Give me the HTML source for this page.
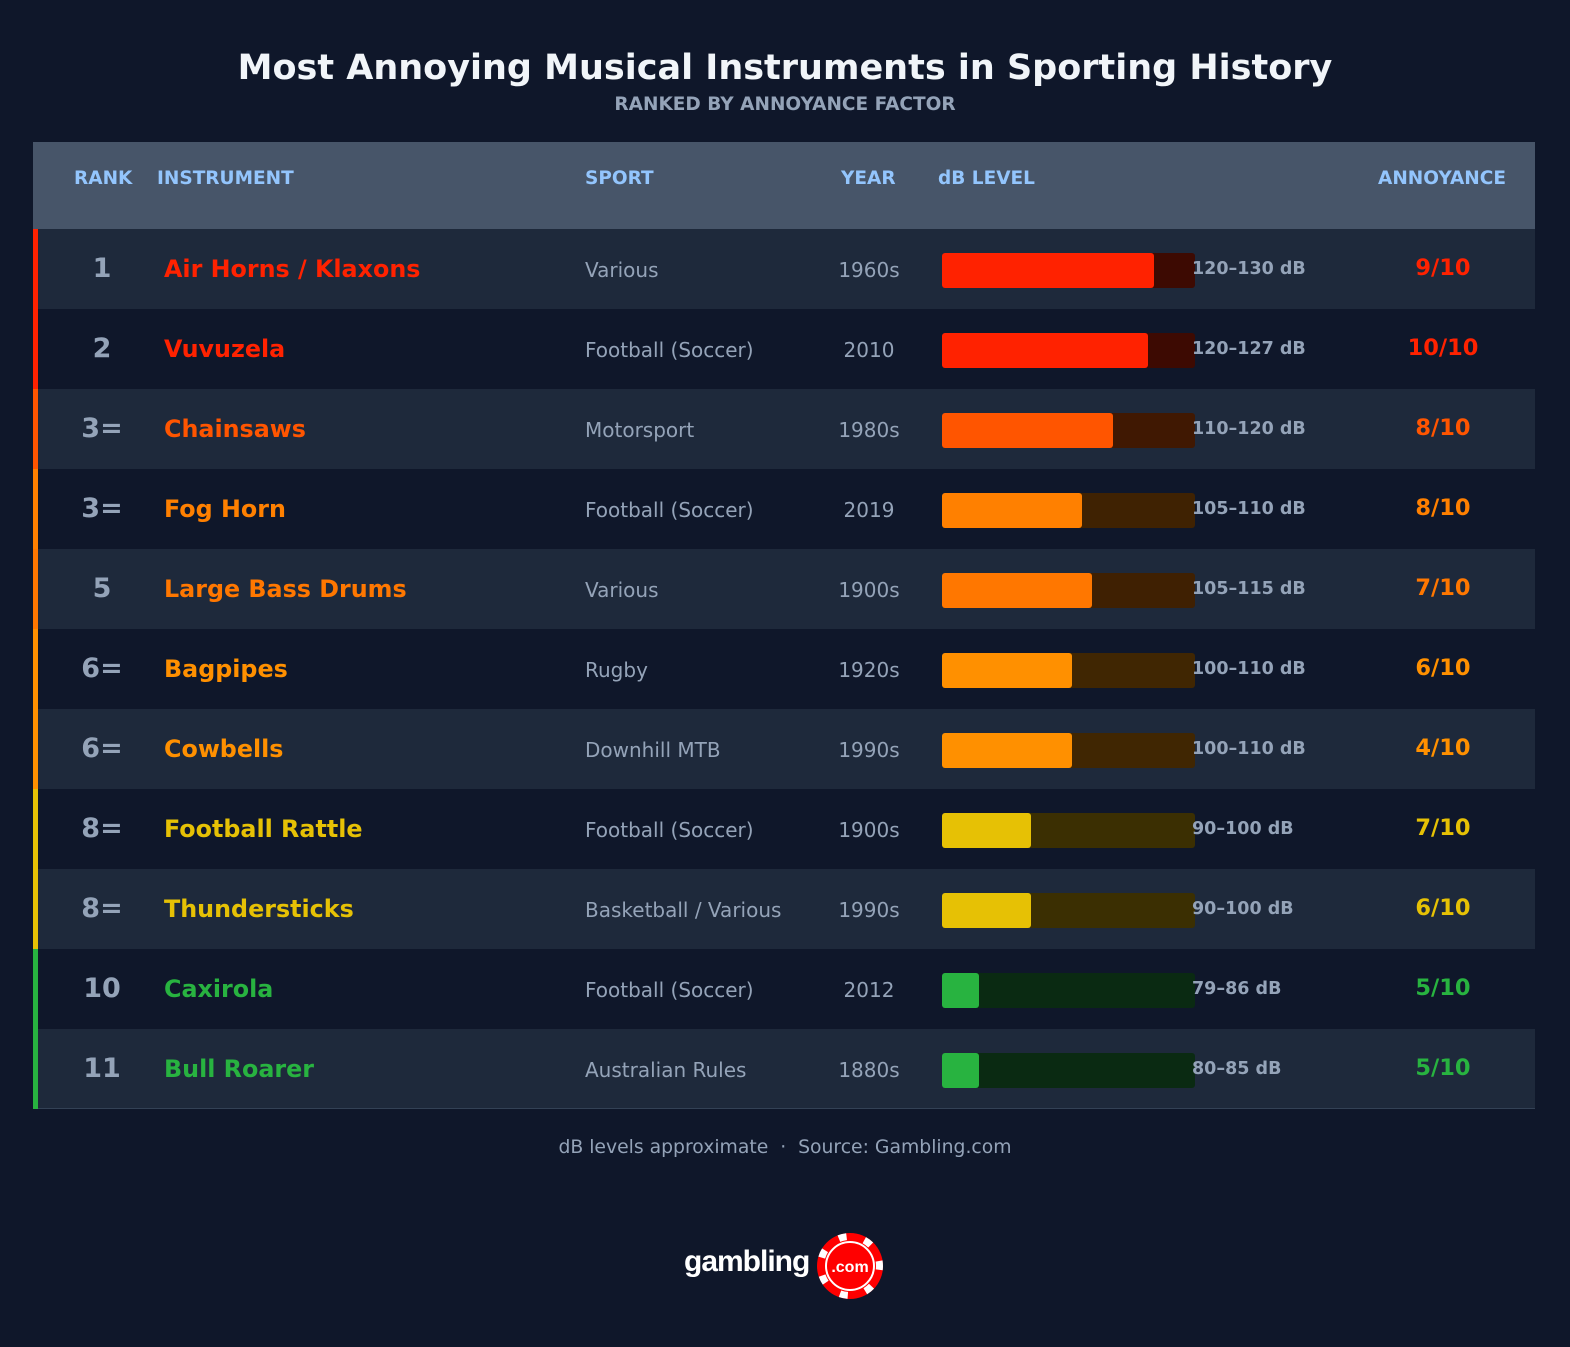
<!DOCTYPE html>
<html><head><meta charset="utf-8">
<style>
*{margin:0;padding:0;box-sizing:border-box}
body{width:1570px;height:1347px;background:#0f172a;font-family:"DejaVu Sans","Liberation Sans",sans-serif;position:relative;overflow:hidden}
.a{position:absolute;white-space:nowrap}
h1{position:absolute;left:0;width:1570px;top:48px;text-align:center;color:#f1f5f9;font-size:35px;font-weight:bold}
.sub{left:0;width:1570px;top:94px;text-align:center;color:#94a3b8;font-size:18.5px;font-weight:bold}
.hdr{left:33px;top:142px;width:1502px;height:87px;background:#475569}
.hl{color:#93c5fd;font-size:18.5px;font-weight:bold;top:168px}
.row{position:absolute;left:33px;width:1502px;height:80px}
.row .s{position:absolute;left:0;top:0;width:5px;height:80px}
.rk{position:absolute;left:0;width:138px;text-align:center;top:24px;font-size:27px;font-weight:bold;color:#94a3b8}
.in{position:absolute;left:131px;top:26px;font-size:23.8px;font-weight:bold}
.sp{position:absolute;left:552px;top:29px;font-size:20px;color:#94a3b8}
.yr{position:absolute;left:786px;width:100px;text-align:center;top:29px;font-size:20px;color:#94a3b8}
.tr{position:absolute;left:909px;top:24px;width:253px;height:35px;border-radius:3px}
.fl{position:absolute;left:0;top:0;height:35px;border-radius:3px}
.db{position:absolute;left:1159px;top:30px;font-size:17.5px;font-weight:bold;color:#94a3b8}
.an{position:absolute;left:1310px;width:200px;text-align:center;top:26px;font-size:22.5px;font-weight:bold}
.o{background:#1e293b}.e{background:#0f172a}
</style></head><body>
<h1>Most Annoying Musical Instruments in Sporting History</h1>
<div class="a sub">RANKED BY ANNOYANCE FACTOR</div>
<div class="a hdr"></div>
<div class="a hl" style="left:74px">RANK</div>
<div class="a hl" style="left:157px">INSTRUMENT</div>
<div class="a hl" style="left:585px">SPORT</div>
<div class="a hl" style="left:841px">YEAR</div>
<div class="a hl" style="left:938px">dB LEVEL</div>
<div class="a hl" style="left:1378px">ANNOYANCE</div>

<div class="row o" style="top:229px"><div class="s" style="background:#ff2200"></div><div class="rk">1</div><div class="in" style="color:#ff2200">Air Horns / Klaxons</div><div class="sp">Various</div><div class="yr">1960s</div><div class="tr" style="background:#3d0a02"><div class="fl" style="width:212px;background:#ff2200"></div></div><div class="db">120–130 dB</div><div class="an" style="color:#ff2200">9/10</div></div>
<div class="row e" style="top:309px"><div class="s" style="background:#ff2200"></div><div class="rk">2</div><div class="in" style="color:#ff2200">Vuvuzela</div><div class="sp">Football (Soccer)</div><div class="yr">2010</div><div class="tr" style="background:#3d0a02"><div class="fl" style="width:206px;background:#ff2200"></div></div><div class="db">120–127 dB</div><div class="an" style="color:#ff2200">10/10</div></div>
<div class="row o" style="top:389px"><div class="s" style="background:#ff5500"></div><div class="rk">3=</div><div class="in" style="color:#ff5500">Chainsaws</div><div class="sp">Motorsport</div><div class="yr">1980s</div><div class="tr" style="background:#401802"><div class="fl" style="width:171px;background:#ff5500"></div></div><div class="db">110–120 dB</div><div class="an" style="color:#ff5500">8/10</div></div>
<div class="row e" style="top:469px"><div class="s" style="background:#ff8000"></div><div class="rk">3=</div><div class="in" style="color:#ff8000">Fog Horn</div><div class="sp">Football (Soccer)</div><div class="yr">2019</div><div class="tr" style="background:#3f2202"><div class="fl" style="width:140px;background:#ff8000"></div></div><div class="db">105–110 dB</div><div class="an" style="color:#ff8000">8/10</div></div>
<div class="row o" style="top:549px"><div class="s" style="background:#ff7700"></div><div class="rk">5</div><div class="in" style="color:#ff7700">Large Bass Drums</div><div class="sp">Various</div><div class="yr">1900s</div><div class="tr" style="background:#3f2002"><div class="fl" style="width:150px;background:#ff7700"></div></div><div class="db">105–115 dB</div><div class="an" style="color:#ff7700">7/10</div></div>
<div class="row e" style="top:629px"><div class="s" style="background:#ff9000"></div><div class="rk">6=</div><div class="in" style="color:#ff9000">Bagpipes</div><div class="sp">Rugby</div><div class="yr">1920s</div><div class="tr" style="background:#402602"><div class="fl" style="width:130px;background:#ff9000"></div></div><div class="db">100–110 dB</div><div class="an" style="color:#ff9000">6/10</div></div>
<div class="row o" style="top:709px"><div class="s" style="background:#ff9000"></div><div class="rk">6=</div><div class="in" style="color:#ff9000">Cowbells</div><div class="sp">Downhill MTB</div><div class="yr">1990s</div><div class="tr" style="background:#402602"><div class="fl" style="width:130px;background:#ff9000"></div></div><div class="db">100–110 dB</div><div class="an" style="color:#ff9000">4/10</div></div>
<div class="row e" style="top:789px"><div class="s" style="background:#e6c105"></div><div class="rk">8=</div><div class="in" style="color:#e6c105">Football Rattle</div><div class="sp">Football (Soccer)</div><div class="yr">1900s</div><div class="tr" style="background:#3b2f02"><div class="fl" style="width:89px;background:#e6c105"></div></div><div class="db">90–100 dB</div><div class="an" style="color:#e6c105">7/10</div></div>
<div class="row o" style="top:869px"><div class="s" style="background:#e6c105"></div><div class="rk">8=</div><div class="in" style="color:#e6c105">Thundersticks</div><div class="sp">Basketball / Various</div><div class="yr">1990s</div><div class="tr" style="background:#3b2f02"><div class="fl" style="width:89px;background:#e6c105"></div></div><div class="db">90–100 dB</div><div class="an" style="color:#e6c105">6/10</div></div>
<div class="row e" style="top:949px"><div class="s" style="background:#28b340"></div><div class="rk">10</div><div class="in" style="color:#28b340">Caxirola</div><div class="sp">Football (Soccer)</div><div class="yr">2012</div><div class="tr" style="background:#0a2a12"><div class="fl" style="width:37px;background:#28b340"></div></div><div class="db">79–86 dB</div><div class="an" style="color:#28b340">5/10</div></div>
<div class="row o" style="top:1029px;border-bottom:1px solid #334155"><div class="s" style="background:#28b340"></div><div class="rk">11</div><div class="in" style="color:#28b340">Bull Roarer</div><div class="sp">Australian Rules</div><div class="yr">1880s</div><div class="tr" style="background:#0a2a12"><div class="fl" style="width:37px;background:#28b340"></div></div><div class="db">80–85 dB</div><div class="an" style="color:#28b340">5/10</div></div>

<div class="a" style="left:0;width:1570px;text-align:center;top:1137px;font-size:18.8px;color:#94a3b8">dB levels approximate &nbsp;·&nbsp; Source: Gambling.com</div>

<div class="a" style="left:684px;top:1245px;font-family:'Liberation Sans',sans-serif;font-weight:bold;font-size:30px;color:#fff;letter-spacing:-1px">gambling</div>
<svg class="a" style="left:816px;top:1232px" width="68" height="68" viewBox="0 0 68 68">
<circle cx="34" cy="34" r="33" fill="#ff0000"/>
<g stroke="#fff" stroke-width="7" stroke-dasharray="8 18.3" fill="none"><circle cx="34" cy="34" r="29.5" transform="rotate(-8 34 34)"/></g>
<circle cx="34" cy="34" r="24" fill="#ff0000" stroke="#fff" stroke-width="2"/>
<text x="34" y="40" text-anchor="middle" font-family="Liberation Sans,sans-serif" font-weight="bold" font-size="16" fill="#fff">.com</text>
</svg>
</body></html>
